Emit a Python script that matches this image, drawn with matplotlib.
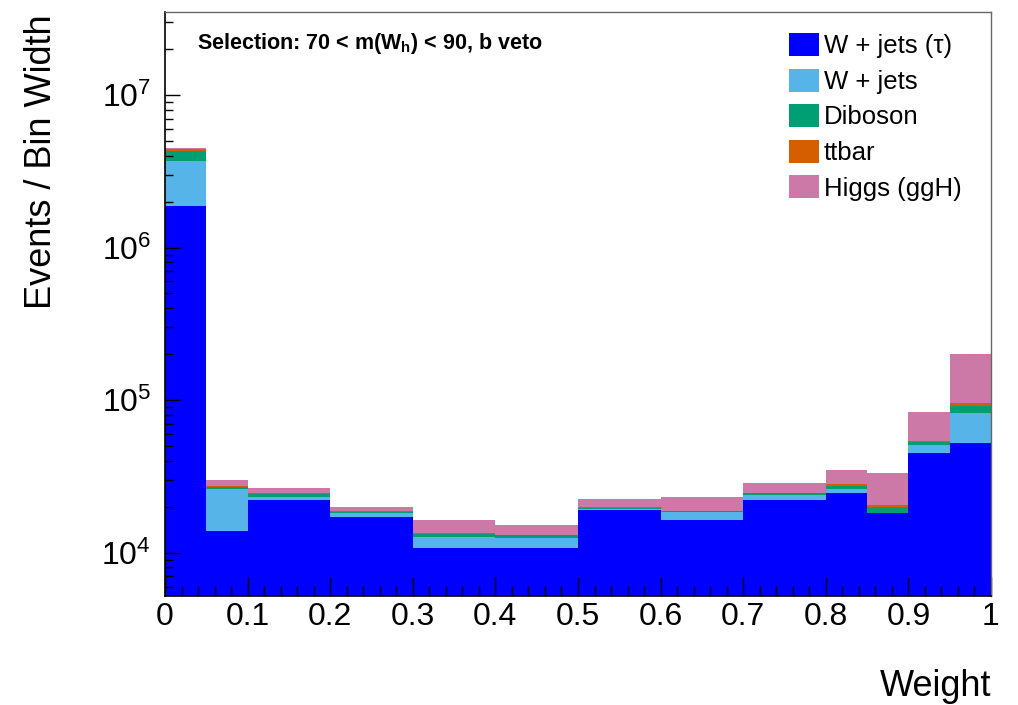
import numpy as np
import matplotlib
matplotlib.use("Agg")
import matplotlib.pyplot as plt
from matplotlib.ticker import LogLocator, MultipleLocator, NullFormatter, FuncFormatter

plt.rcParams['font.family'] = ['Liberation Sans', 'DejaVu Sans']
plt.rcParams['mathtext.fontset'] = 'custom'
plt.rcParams['mathtext.rm'] = 'Liberation Sans'
plt.rcParams['mathtext.it'] = 'Liberation Sans:italic'
plt.rcParams['mathtext.bf'] = 'Liberation Sans:bold'

# Bin edges of the Weight histogram
bin_edges = [0.0, 0.05, 0.1, 0.2, 0.3, 0.4, 0.5, 0.6, 0.7, 0.8, 0.85, 0.9, 0.95, 1.0]

# Events / bin width per process (stack order bottom -> top)
wjets_tau = [1.86e6, 13950, 22300, 17060, 10740, 10680, 18970, 16480, 22230, 24700, 18250, 45300, 52300]
wjets     = [1.82e6, 12100,  1000,  1180,  1940,  1740,   500,  1870,  1740,  1540,     0,  5300, 29700]
diboson   = [0.60e6,  1050,   900,   110,   600,   550,   300,   270,   480,   960,  1750,  2900,  8900]
ttbar     = [0.17e6,   450,   500,   350,   200,    80,    80,    50,    50,  1100,   500,   100,  4600]
higgs     = [0.03e6,  2600,  1650,  1250,  3000,  2130,  2500,  4400,  4000,  6300, 12750, 29500, 106000]

labels = ["W + jets (τ)", "W + jets", "Diboson", "ttbar", "Higgs (ggH)"]
colors = ["#0000FF", "#56B4E9", "#009E73", "#D55E00", "#CC79A7"]
series = [wjets_tau, wjets, diboson, ttbar, higgs]

fig = plt.figure(figsize=(10.18, 7.05), dpi=100)
W, H = 1018, 705
ax = fig.add_axes([165 / W, 1 - 596 / H, (991 - 165) / W, (596 - 12) / H])
ax.set_yscale('log')

edges = np.array(bin_edges)
lefts = edges[:-1]
widths = np.diff(edges)
bottom = np.zeros(len(lefts))
handles = []
for vals, col, lab in zip(series, colors, labels):
    v = np.array(vals, dtype=float)
    b = ax.bar(lefts, v, width=widths, bottom=bottom, align='edge', color=col,
               linewidth=0, label=lab, zorder=1)
    handles.append(b)
    bottom = bottom + v

ax.set_xlim(0, 1)
ax.set_ylim(5200, 3.5e7)

# ticks
ax.xaxis.set_major_locator(MultipleLocator(0.1))
ax.xaxis.set_minor_locator(MultipleLocator(0.02))
ax.xaxis.set_major_formatter(FuncFormatter(lambda x, p: ('%g' % round(x, 2))))
ax.yaxis.set_major_locator(LogLocator(base=10, numticks=20))
ax.yaxis.set_minor_locator(LogLocator(base=10, subs=np.arange(2, 10), numticks=20))
ax.yaxis.set_minor_formatter(NullFormatter())
ax.yaxis.set_major_formatter(FuncFormatter(lambda y, p: r'$10^{%d}$' % round(np.log10(y))))

ax.tick_params(axis='x', which='major', direction='in', length=13.5, width=1.0,
               labelsize=23, pad=4, top=False)
ax.tick_params(axis='x', which='minor', direction='in', length=7, width=1.0, top=False)
ax.tick_params(axis='y', which='major', direction='in', length=11, width=1.0,
               labelsize=23, pad=10, right=False)
ax.tick_params(axis='y', which='minor', direction='in', length=6, width=1.0, right=False)

for s in ['left', 'bottom']:
    ax.spines[s].set_color('black')
    ax.spines[s].set_linewidth(1.2)
for s in ['top', 'right']:
    ax.spines[s].set_color('#666666')
    ax.spines[s].set_linewidth(1.0)

# axis titles
fig.text(42 / W, 1 - 162 / H, "Events / Bin Width", rotation=90, fontsize=26,
         ha='center', va='center')
fig.text(991 / W, 1 - 686 / H, "Weight", fontsize=26, ha='right', va='center')

# selection text
fig.text(197 / W, 1 - 43 / H, "Selection: 70 < m(W$_{\\mathbf{h}}$) < 90, b veto",
         fontsize=15.5, fontweight='bold', ha='left', va='center')

leg = ax.legend(handles=handles, labels=labels, loc='upper left',
                bbox_to_anchor=(789 / W, 1 - 33 / H), bbox_transform=fig.transFigure,
                frameon=False, fontsize=18.5, handlelength=1.15, handleheight=1.0,
                handletextpad=0.2, labelspacing=0.4, borderpad=0, borderaxespad=0)

fig.savefig("out.png", dpi=100)
